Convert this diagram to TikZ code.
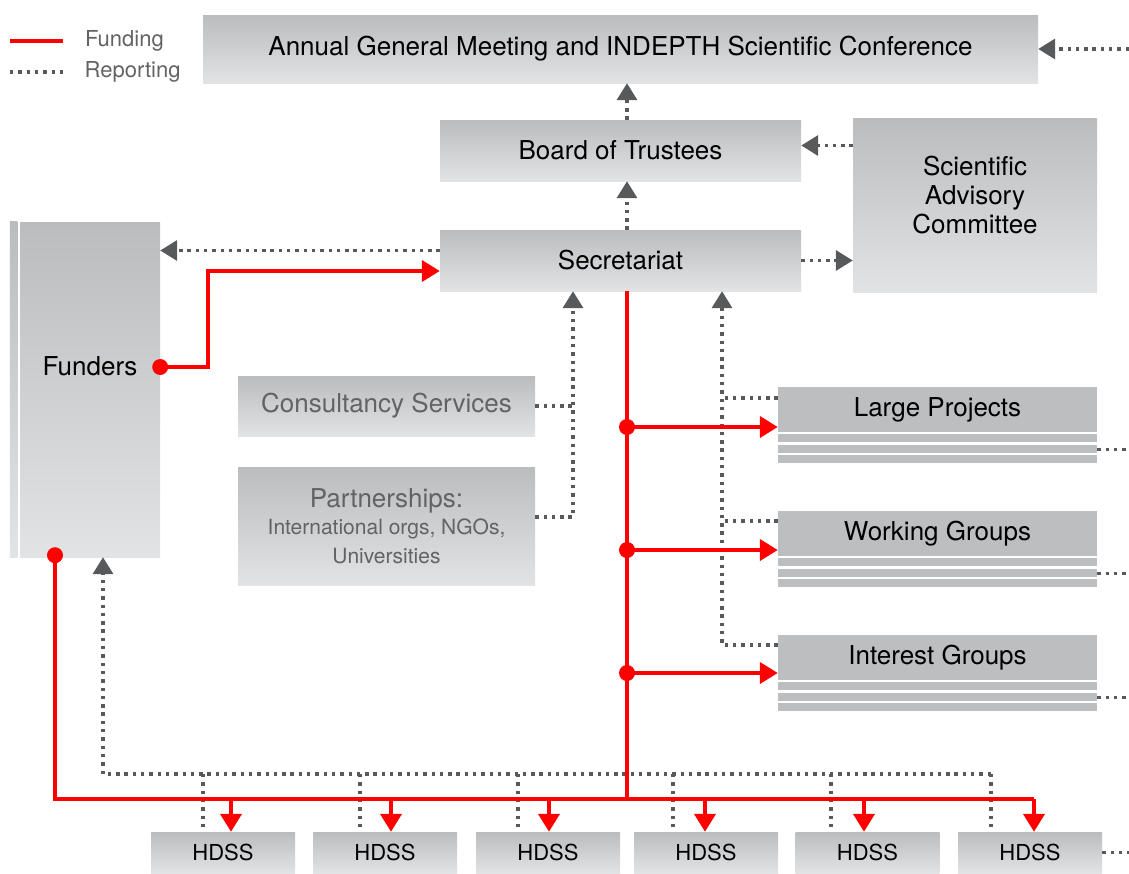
\documentclass[tikz,border=0pt]{standalone}
\usepackage{fontspec}
\setmainfont{TeX Gyre Heros}
\usetikzlibrary{arrows.meta}
\usetikzlibrary{positioning}
\usetikzlibrary{calc}
\definecolor{boxtop}{RGB}{187,188,190}
\definecolor{boxbottom}{RGB}{226,227,229}
\definecolor{groupgray}{RGB}{188,190,192}
\definecolor{fundred}{RGB}{255,0,0}
\definecolor{reportgray}{RGB}{88,89,91}
\definecolor{softtext}{RGB}{98,99,101}
\newcommand\subline{\fontsize{21}{23}\selectfont}
\tikzset{
  orgbox/.style={shape=rectangle,inner sep=0pt,top color=boxtop,bottom color=boxbottom,align=center,text=black,font=\fontsize{26}{29}\selectfont},
  groupbox/.style={shape=rectangle,inner sep=0pt,fill=groupgray,minimum width=319pt,minimum height=45pt,text=black,font=\fontsize{26}{29}\selectfont},
  hdssbox/.style={orgbox,minimum width=144pt,minimum height=41pt,font=\fontsize{22}{26}\selectfont},
  fundline/.style={draw=fundred,line width=4pt},
  funding/.style={fundline,-{Triangle[width=21pt,length=18pt]}},
  reportline/.style={draw=reportgray,line width=3.4pt,dash pattern=on 3.4pt off 4.9pt},
  reporting/.style={reportline,-{Triangle[width=20pt,length=17pt]}},
  legendtext/.style={text=softtext,font=\fontsize{22}{26}\selectfont,inner sep=0pt,anchor=west}
}

\begin{document}
\begin{tikzpicture}[x=1pt,y=-1pt]
\useasboundingbox (0,0) rectangle (1129,873);
\node[orgbox,minimum width=835pt,minimum height=68pt] (agm) at (620.5,49) {Annual General Meeting and INDEPTH Scientific Conference};
\node[orgbox,minimum width=361pt,minimum height=61pt] (board) at (620.5,150.5) {Board of Trustees};
\node[orgbox,minimum width=361pt,minimum height=61pt] (sec) at (620.5,260.5) {Secretariat};
\node[orgbox,minimum width=244pt,minimum height=174pt,text depth=20pt] (sac) at (975,205) {Scientific\\Advisory\\Committee};
\node[orgbox,minimum width=140pt,minimum height=335pt,text depth=46pt] (funders) at (90,389.5) {Funders};
\shade[top color=boxtop,bottom color=boxbottom] ($(funders.north west)+(-10,0)$) rectangle ($(funders.south west)+(-2.5,0)$);
\node[orgbox,minimum width=297pt,minimum height=60pt,text=softtext] (cons) at (386.5,406) {Consultancy Services};
\node[orgbox,minimum width=297pt,minimum height=118pt,text=softtext] (part) at (386.5,526) {Partnerships:\\[-2pt]\subline International orgs, NGOs,\\\subline Universities};
\node[groupbox] (large) at (937.5,409.5) {Large Projects};
\node[groupbox] (wg) at (937.5,533.5) {Working Groups};
\node[groupbox] (ig) at (937.5,657.5) {Interest Groups};
\foreach \g in {large,wg,ig}{
  \foreach \k in {0,1,2}
    \fill[groupgray] ($(\g.south west)+(0,2+10.5*\k)$) rectangle ++(319,8);
  \coordinate (\g out) at ($(\g.south east)+(0,17)$);
}
\foreach \i/\cx in {1/223,2/385,3/548,4/706,5/867.5,6/1030}
  \node[hdssbox] (h\i) at (\cx,852.5) {HDSS};

\coordinate (rim) at (1129,0);
\coordinate (bus) at (0,799);
\coordinate (trunk) at ($(sec.south)+(6.5,0)$);
\coordinate (lspine) at ($(sec.south)+(-47.5,0)$);
\coordinate (rspine) at ($(sec.south)+(101.5,0)$);
\coordinate (fundout) at ($(funders.east)+(0,-22.5)$);
\coordinate (fundbot) at ($(funders.south)+(-35,-2)$);
\coordinate (repcorner) at (103,774);

\draw[reporting] (agm.east -| rim) -- (agm.east);
\draw[reporting] (trunk |- board.north) -- (trunk |- agm.south);
\draw[reporting] (trunk |- sec.north) -- (trunk |- board.south);
\draw[reporting] ($(sac.west |- board.east)+(0,-5)$) -- ($(board.east)+(0,-5)$);
\draw[reporting] (sec.east) -- (sec.east -| sac.west);
\draw[reporting] ($(sec.west)+(0,-10)$) -- ($(funders.east |- sec.west)+(0,-10)$);
\draw[reportline] (cons.east) -- (cons.east -| lspine);
\draw[reporting] ($(part.east)+(0,-9)$) -| (lspine);
\draw[reportline] ($(large.west)+(0,-11.5)$) -- ($(rspine |- large.west)+(0,-11.5)$);
\draw[reportline] ($(wg.west)+(0,-12.5)$) -- ($(rspine |- wg.west)+(0,-12.5)$);
\draw[reporting] ($(ig.west)+(0,-12.5)$) -| (rspine);
\foreach \g in {large,wg,ig}
  \draw[reportline] (\g out) -- (\g out -| rim);
\draw[reportline] (h6.east) -- (h6.east -| rim);

\foreach \i/\fx/\rx in {1/231/203,2/391/360,3/549/518,4/705/673,5/864/831,6/1034/991}{
  \coordinate (f\i) at (\fx,799);
  \coordinate (r\i) at (\rx,774);
  \draw[reportline] (r\i) -- (r\i |- h\i.north);
}
\draw[reporting] (r6) -- (repcorner) -- (repcorner |- funders.south);

\draw[funding] (fundout) -- ++(48,0) |- ($(sec.west)+(0,10.5)$);
\fill[fundred] (fundout) circle[radius=8pt];
\draw[fundline] (trunk) -- (trunk |- bus);
\foreach \g/\dy in {large/17.5,wg/16.5,ig/15.5}{
  \draw[funding] ($(trunk |- \g.west)+(0,\dy)$) -- ($(\g.west)+(0,\dy)$);
  \fill[fundred] ($(trunk |- \g.west)+(0,\dy)$) circle[radius=8pt];
}
\draw[fundline] (fundbot) |- (f6);
\fill[fundred] (fundbot) circle[radius=8pt];
\foreach \i in {1,...,6}
  \draw[funding] (f\i) -- (f\i |- h\i.north);

\coordinate (keyfund) at (10,41);
\coordinate (keyrep) at (10,72);
\draw[fundline] (keyfund) -- ++(53,0) node[legendtext,right=20pt] (fundkey) {Funding};
\draw[reportline] (keyrep) -- ++(53,0) node[legendtext,right=20pt] (repkey) {Reporting};
\end{tikzpicture}
\end{document}
